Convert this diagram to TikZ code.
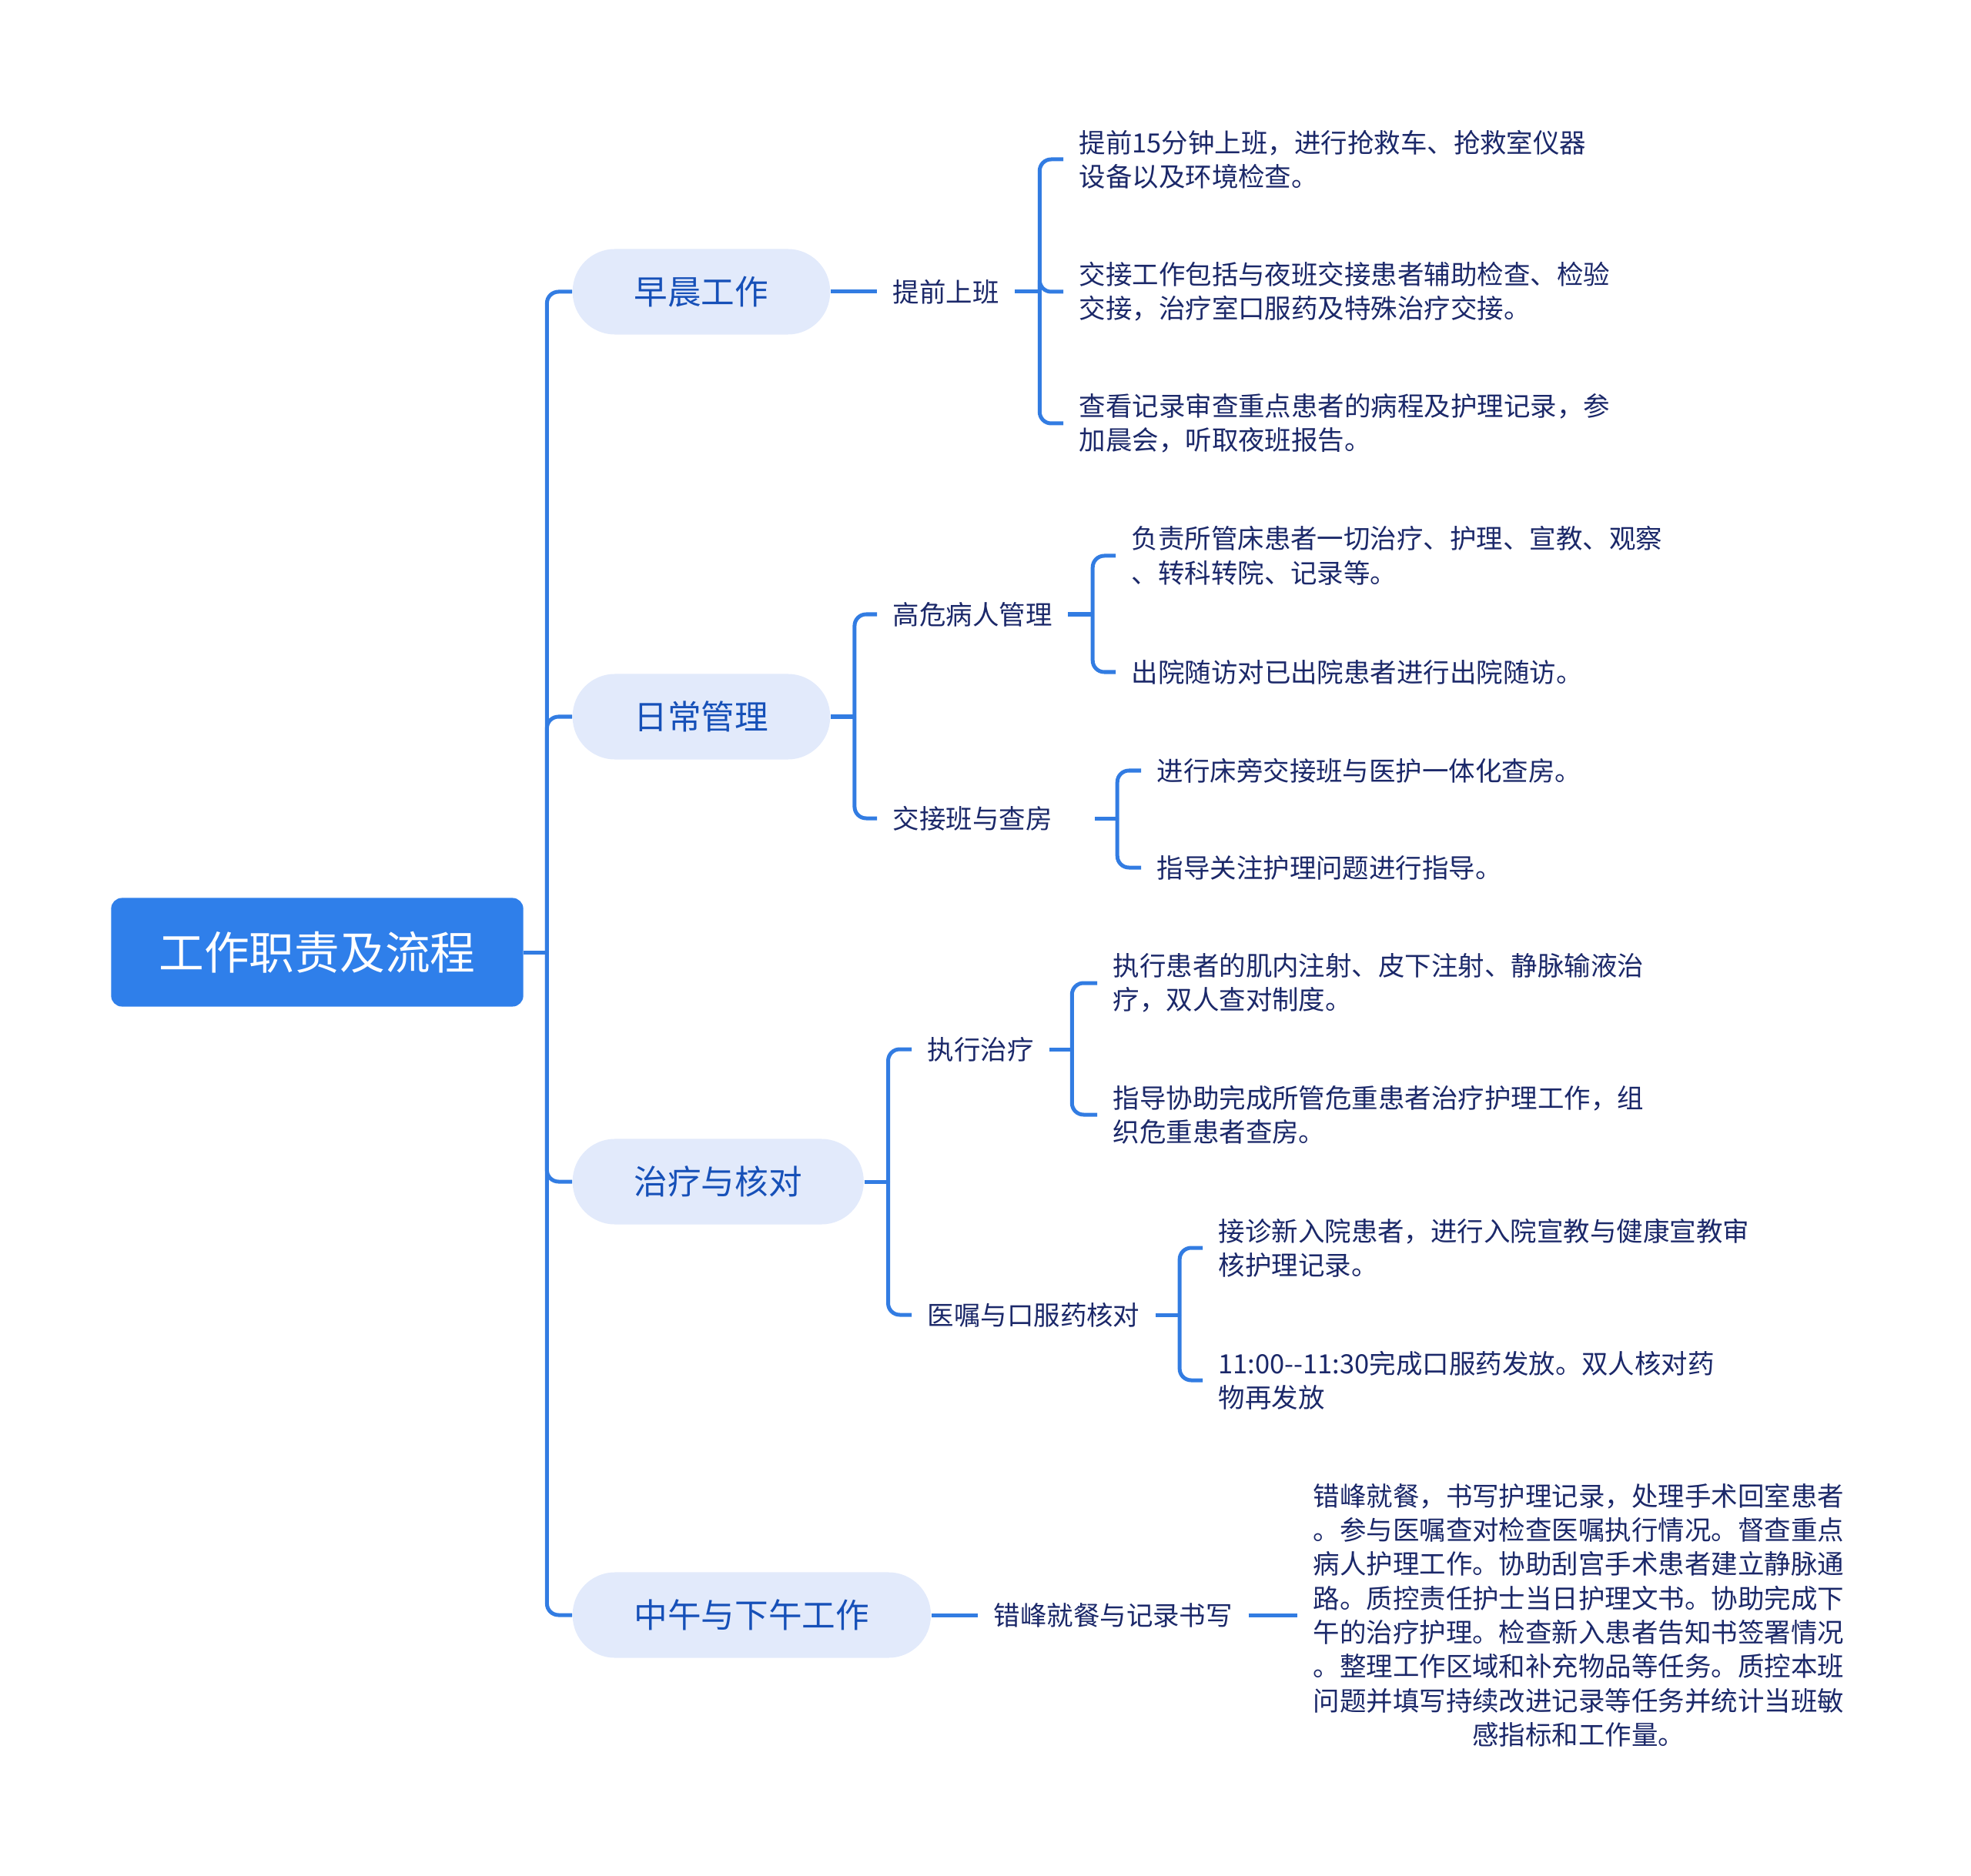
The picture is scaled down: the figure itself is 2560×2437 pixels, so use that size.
\documentclass[tikz,border=0pt]{standalone}
\usepackage{fontspec}
\newfontfamily\cjk{Noto Sans CJK SC}
\definecolor{mapblue}{RGB}{47,127,234}
\definecolor{maplink}{RGB}{50,124,226}
\definecolor{mappill}{RGB}{226,234,251}
\definecolor{mapmid}{RGB}{22,80,184}
\definecolor{mapnavy}{RGB}{27,40,105}
\usetikzlibrary{positioning}

\begin{document}
\begin{tikzpicture}[x=0.01cm, y=-0.01cm, font=\cjk]
    % Styles
    \tikzset{rootbox/.style={rectangle, rounded corners=0.14cm, fill=mapblue, text=white,
      minimum width=5.35cm, minimum height=1.41cm, font=\cjk\fontsize{16.7}{20}\selectfont}}
    \tikzset{topic/.style={rectangle, rounded corners=0.55cm, fill=mappill, text=mapmid,
      minimum height=1.11cm, inner xsep=0.8cm, anchor=west, font=\cjk\fontsize{12.4}{15}\selectfont}}
    \tikzset{sub/.style={anchor=west, inner xsep=0.2cm, text=mapnavy,
      font=\cjk\fontsize{9.8}{12.6}\selectfont}}
    \tikzset{leaf/.style={sub, align=left}}
    \tikzset{link/.style={draw=maplink, line width=0.05cm}}
    \tikzset{elbow/.style={link, rounded corners=0.15cm}}

    \useasboundingbox (0,0) rectangle (2560,2437);

    % Root
    \node[rootbox] (root) at (412,1237) {工作职责及流程};

    % Main topics
    \node[topic] (t1) at (743,379)  {早晨工作};
    \node[topic] (t2) at (743,931)  {日常管理};
    \node[topic] (t3) at (743,1535) {治疗与核对};
    \node[topic] (t4) at (743,2098) {中午与下午工作};

    % Sub topics
    \node[sub] (s1) at (1139,379)  {提前上班};
    \node[sub] (s2) at (1139,798)  {高危病人管理};
    \node[sub] (s3) at (1139,1063) {交接班与查房};
    \node[sub] (s4) at (1184,1363) {执行治疗};
    \node[sub] (s5) at (1184,1708) {医嘱与口服药核对};
    \node[sub] (s6) at (1270,2098) {错峰就餐与记录书写};

    % Details
    \node[leaf] (l1)  at (1381,207)  {提前15分钟上班，进行抢救车、抢救室仪器\\设备以及环境检查。};
    \node[leaf] (l2)  at (1381,379)  {交接工作包括与夜班交接患者辅助检查、检验\\交接，治疗室口服药及特殊治疗交接。};
    \node[leaf] (l3)  at (1381,550)  {查看记录审查重点患者的病程及护理记录，参\\加晨会，听取夜班报告。};
    \node[leaf] (l4)  at (1449,722)  {负责所管床患者一切治疗、护理、宣教、观察\\、转科转院、记录等。};
    \node[leaf] (l5)  at (1449,873)  {出院随访对已出院患者进行出院随访。};
    \node[leaf] (l6)  at (1482,1001) {进行床旁交接班与医护一体化查房。};
    \node[leaf] (l7)  at (1482,1127) {指导关注护理问题进行指导。};
    \node[leaf] (l8)  at (1425,1277) {执行患者的肌内注射、皮下注射、静脉输液治\\疗，双人查对制度。};
    \node[leaf] (l9)  at (1425,1448) {指导协助完成所管危重患者治疗护理工作，组\\织危重患者查房。};
    \node[leaf] (l10) at (1562,1621) {接诊新入院患者，进行入院宣教与健康宣教审\\核护理记录。};
    \node[leaf] (l11) at (1562,1793) {11:00-{}-11:30完成口服药发放。双人核对药\\物再发放};
    \node[sub, align=center] (l12) at (1685,2098)
      {错峰就餐，书写护理记录，处理手术回室患者\\。参与医嘱查对检查医嘱执行情况。督查重点\\
       病人护理工作。协助刮宫手术患者建立静脉通\\路。质控责任护士当日护理文书。协助完成下\\
       午的治疗护理。检查新入患者告知书签署情况\\。整理工作区域和补充物品等任务。质控本班\\
       问题并填写持续改进记录等任务并统计当班敏\\感指标和工作量。};

    % Root -> topics
    \draw[link] (root.east) -- ++(30,0) coordinate (j0);
    \foreach \t in {t1, t2, t3, t4}{
      \draw[elbow] (j0) |- (\t.west);
    }

    % Topics -> sub topics
    \draw[link] (t1.east) -- (s1.west);
    \draw[link] (t2.east) -- ++(31,0) coordinate (j2);
    \foreach \s in {s2, s3}{
      \draw[elbow] (j2) |- (\s.west);
    }
    \draw[link] (t3.east) -- ++(31,0) coordinate (j3);
    \foreach \s in {s4, s5}{
      \draw[elbow] (j3) |- (\s.west);
    }
    \draw[link] (t4.east) -- (s6.west);

    % Sub topics -> details
    \draw[link] (s1.east) -- ++(32,0) coordinate (k1);
    \foreach \l in {l1, l2, l3}{
      \draw[elbow] (k1) |- (\l.west);
    }
    \draw[link] (s2.east) -- ++(32,0) coordinate (k2);
    \foreach \l in {l4, l5}{
      \draw[elbow] (k2) |- (\l.west);
    }
    \draw[link] ([xshift=0.35cm]s3.east) -- ++(29,0) coordinate (k3);
    \foreach \l in {l6, l7}{
      \draw[elbow] (k3) |- (\l.west);
    }
    \draw[link] (s4.east) -- ++(29,0) coordinate (k4);
    \foreach \l in {l8, l9}{
      \draw[elbow] (k4) |- (\l.west);
    }
    \draw[link] (s5.east) -- ++(31,0) coordinate (k5);
    \foreach \l in {l10, l11}{
      \draw[elbow] (k5) |- (\l.west);
    }
    \draw[link] (s6.east) -- (l12.west);
\end{tikzpicture}
\end{document}
